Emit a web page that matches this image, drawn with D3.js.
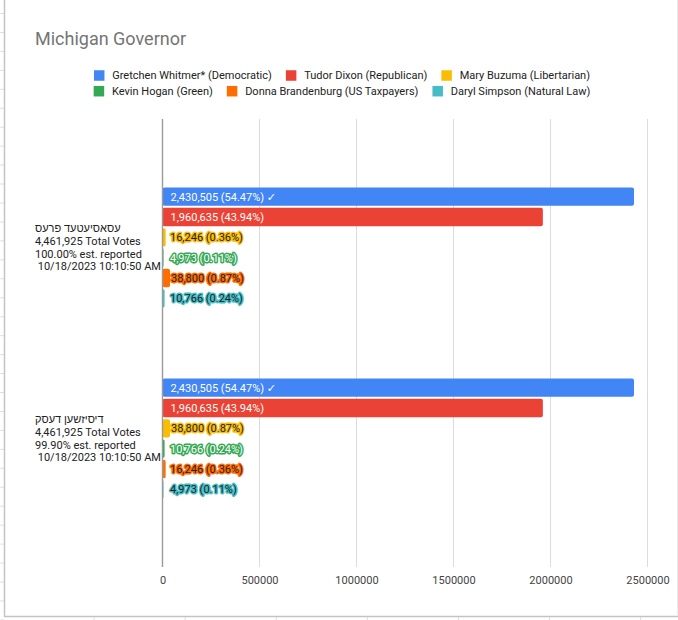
<!DOCTYPE html>
<html>
<head>
<meta charset="utf-8">
<script src="https://cdnjs.cloudflare.com/ajax/libs/d3/7.8.5/d3.min.js"></script>
<style>
  html, body { margin: 0; padding: 0; background: #fff; }
  svg { display: block; }
</style>
</head>
<body>
<svg id="chart" width="678" height="620"></svg>
<script>
// ---------------- DATA ----------------
const chartTitle = "Michigan Governor";
const categories = ["AP", "DDHQ"];
const categoryLines = [
  ["עסאסיעטעד פרעס", "4,461,925 Total Votes", "100.00% est. reported", "\u00a010/18/2023 10:10:50 AM"],
  ["דיסיזשען דעסק", "4,461,925 Total Votes", "99.90% est. reported", "\u00a010/18/2023 10:10:50 AM"]
];
const seriesNames = [
  "Gretchen Whitmer* (Democratic)",
  "Tudor Dixon (Republican)",
  "Mary Buzuma (Libertarian)",
  "Kevin Hogan (Green)",
  "Donna Brandenburg (US Taxpayers)",
  "Daryl Simpson (Natural Law)"
];
const valuesAP   = [2430505, 1960635, 16246, 4973, 38800, 10766];
const valuesDDHQ = [2430505, 1960635, 38800, 10766, 16246, 4973];
const percentAP   = ["54.47%", "43.94%", "0.36%", "0.11%", "0.87%", "0.24%"];
const percentDDHQ = ["54.47%", "43.94%", "0.87%", "0.24%", "0.36%", "0.11%"];
const winnerIndex = 0;
const xTicks = [0, 500000, 1000000, 1500000, 2000000, 2500000];

// ---------------- STYLE ----------------
const seriesColors = ["#4285f4", "#ea4335", "#fbbc04", "#34a853", "#ff6d01", "#46bdc6"];
const labelFill = ["#ffffff", "#ffffff", "#1f1f1f", "#ffffff", "#1f1f1f", "#1f1f1f"];
const FONT = "Roboto, 'Liberation Sans', 'DejaVu Sans', sans-serif";

const valuesByCat = [valuesAP, valuesDDHQ];
const percentByCat = [percentAP, percentDDHQ];

const W = 678, H = 620;
const svg = d3.select("#chart").attr("font-family", FONT);

// spreadsheet background (grid peeking around embedded chart)
const sheet = svg.append("g");
sheet.append("rect").attr("x", 0).attr("y", 0).attr("width", W).attr("height", H).attr("fill", "#fff");
for (let y = 13.5; y < H; y += 18.95) {
  sheet.append("line").attr("x1", 0).attr("x2", 4).attr("y1", y).attr("y2", y)
    .attr("stroke", "#e0e0e0").attr("stroke-width", 1);
}
for (let x = 94; x < W; x += 91.1) {
  sheet.append("line").attr("x1", x).attr("x2", x).attr("y1", 617).attr("y2", H)
    .attr("stroke", "#e0e0e0").attr("stroke-width", 1);
}
sheet.append("line").attr("x1", 4.5).attr("x2", 4.5).attr("y1", 0).attr("y2", 617)
  .attr("stroke", "#c4c4c4").attr("stroke-width", 1.5);
sheet.append("line").attr("x1", 4).attr("x2", W).attr("y1", 616.5).attr("y2", 616.5)
  .attr("stroke", "#c4c4c4").attr("stroke-width", 1.5);
sheet.append("line").attr("x1", 677.5).attr("x2", 677.5).attr("y1", 0).attr("y2", 616)
  .attr("stroke", "#ececec").attr("stroke-width", 1);

// title
svg.append("text").attr("x", 35).attr("y", 44.5)
  .attr("font-size", 18).attr("fill", "#757575").text(chartTitle);

// legend
const legendRows = [[0, 1, 2], [3, 4, 5]];
const legendY = [75.5, 91.2];
const sq = 10.5, sqGap = 7.8, itemGap = 14;
legendRows.forEach((row, ri) => {
  const g = svg.append("g");
  let cx = 0;
  row.forEach(si => {
    g.append("rect").attr("x", cx).attr("y", legendY[ri] - sq / 2)
      .attr("width", sq).attr("height", sq).attr("fill", seriesColors[si]);
    const t = g.append("text").attr("x", cx + sq + sqGap).attr("y", legendY[ri])
      .attr("dy", "0.35em").attr("font-size", 11).attr("fill", "#222").text(seriesNames[si]);
    cx += sq + sqGap + t.node().getComputedTextLength() + itemGap;
  });
  const total = cx - itemGap;
  g.attr("transform", `translate(${342 - total / 2},0)`);
});

// scales
const plotTop = 119, plotBottom = 567;
const x = d3.scaleLinear().domain([0, 2500000]).range([162.5, 647.5]);
const y0 = d3.scaleBand().domain(categories).range([plotTop, plotBottom])
  .paddingInner(0.3717).paddingOuter(0.3586);
const y1 = d3.scaleBand().domain(d3.range(seriesNames.length)).range([0, y0.bandwidth()])
  .paddingInner(0.1).paddingOuter(0);

// gridlines
svg.append("g").selectAll("line").data(xTicks.filter(d => d > 0)).join("line")
  .attr("x1", d => x(d)).attr("x2", d => x(d))
  .attr("y1", plotTop).attr("y2", plotBottom)
  .attr("stroke", "#dcdcdc").attr("stroke-width", 1);

// x axis labels
const xAxis = d3.axisBottom(x).tickValues(xTicks).tickSize(0).tickPadding(9)
  .tickFormat(d3.format("d"));
const ax = svg.append("g").attr("transform", `translate(0,${plotBottom})`).call(xAxis);
ax.select(".domain").remove();
ax.selectAll("text").attr("font-size", 11).attr("fill", "#444").attr("font-family", FONT);

// bars
categories.forEach((cat, ci) => {
  const g = svg.append("g").attr("transform", `translate(0,${y0(cat)})`);
  const vals = valuesByCat[ci];
  const data = vals.map((v, si) => ({ v, si }));
  g.selectAll("rect").data(data).join("rect")
    .attr("x", x(0))
    .attr("y", d => y1(d.si))
    .attr("width", d => Math.max(1, x(d.v) - x(0)))
    .attr("height", y1.bandwidth())
    .attr("rx", 2).attr("ry", 2)
    .attr("fill", d => seriesColors[d.si]);

  // labels
  data.forEach(d => {
    const txt = d3.format(",")(d.v) + " (" + percentByCat[ci][d.si] + ")" + (d.si === winnerIndex ? " \u2713" : "");
    const yc = y1(d.si) + y1.bandwidth() / 2;
    const inside = (x(d.v) - x(0)) > 120;
    const t = g.append("text")
      .attr("y", yc).attr("dy", "0.36em")
      .attr("font-size", 11)
      .text(txt);
    if (inside) {
      t.attr("x", x(0) + 8).attr("fill", "#fff");
    } else {
      t.attr("x", Math.max(x(0) + 7.5, x(d.v) + 1))
        .attr("fill", labelFill[d.si])
        .attr("stroke", seriesColors[d.si]).attr("stroke-width", 3)
        .attr("stroke-linejoin", "round").attr("paint-order", "stroke");
    }
  });
});

// baseline
svg.append("line").attr("x1", x(0)).attr("x2", x(0)).attr("y1", plotTop).attr("y2", plotBottom)
  .attr("stroke", "#9a9a9a").attr("stroke-width", 1.4);

// category labels
categories.forEach((cat, ci) => {
  const yc = y0(cat) + y0.bandwidth() / 2;
  const lines = categoryLines[ci];
  const t = svg.append("text").attr("font-size", 11).attr("fill", "#222");
  lines.forEach((ln, li) => {
    t.append("tspan").attr("x", 35)
      .attr("y", yc + (li - (lines.length - 1) / 2) * 12.6)
      .attr("dy", "0.35em")
      .text(ln);
  });
});
</script>
</body>
</html>
